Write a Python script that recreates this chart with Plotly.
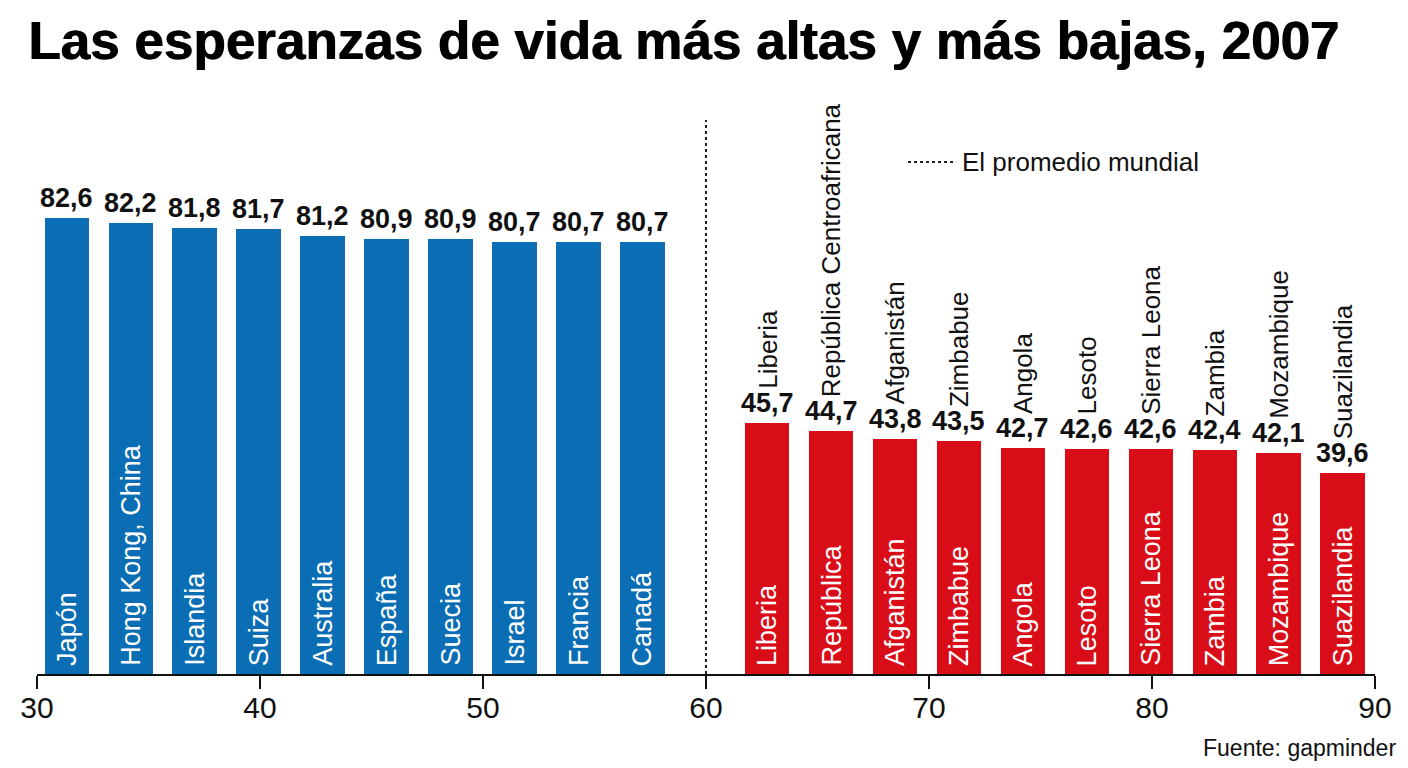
import plotly.graph_objects as go

# ---------------- data ----------------
blue_countries = ["Japón", "Hong Kong, China", "Islandia", "Suiza", "Australia",
                  "España", "Suecia", "Israel", "Francia", "Canadá"]
blue_values = [82.6, 82.2, 81.8, 81.7, 81.2, 80.9, 80.9, 80.7, 80.7, 80.7]

red_countries = ["Liberia", "República Centroafricana", "Afganistán", "Zimbabue", "Angola",
                 "Lesoto", "Sierra Leona", "Zambia", "Mozambique", "Suazilandia"]
red_inside = ["Liberia", "República", "Afganistán", "Zimbabue", "Angola",
              "Lesoto", "Sierra Leona", "Zambia", "Mozambique", "Suazilandia"]
red_values = [45.7, 44.7, 43.8, 43.5, 42.7, 42.6, 42.6, 42.4, 42.1, 39.6]

world_average_x = 60
x_ticks = [30, 40, 50, 60, 70, 80, 90]

title = "Las esperanzas de vida más altas y más bajas, 2007"
legend_text = "El promedio mundial"
source_text = "Fuente: gapminder"

# ---------------- style / layout ----------------
BLUE = "#0b6db4"
RED = "#d90d18"
INK = "#111111"
FONT = "Liberation Sans, Arial, sans-serif"

step = 2.868
blue_x = [31.34 + i * step for i in range(len(blue_values))]
red_x = [62.74 + i * step for i in range(len(red_values))]
bar_w = 2.0


def fmt(v):
    return f"{v:.1f}".replace(".", ",")


fig = go.Figure()
fig.add_trace(go.Bar(x=blue_x, y=blue_values, width=bar_w, marker_color=BLUE,
                     marker_line_width=0, yaxis="y", hoverinfo="skip", showlegend=False))
fig.add_trace(go.Bar(x=red_x, y=red_values, width=bar_w, marker_color=RED,
                     marker_line_width=0, yaxis="y2", hoverinfo="skip", showlegend=False))

ann = []
# value labels + inside labels
for xs, vals, names, yref in [(blue_x, blue_values, blue_countries, "y"),
                              (red_x, red_values, red_inside, "y2")]:
    for x, v, n in zip(xs, vals, names):
        ann.append(dict(x=x, y=v, xref="x", yref=yref, text=fmt(v), showarrow=False,
                        yanchor="bottom", xanchor="center", yshift=3,
                        font=dict(family=FONT, size=27, color=INK, weight="bold")))
        ann.append(dict(x=x, y=0, xref="x", yref="paper", text=n, showarrow=False,
                        textangle=-90, yanchor="bottom", xanchor="center", yshift=6,
                        font=dict(family=FONT, size=27, color="white")))
# names above red bars
for x, v, n in zip(red_x, red_values, red_countries):
    ann.append(dict(x=x, y=v, xref="x", yref="y2", text=n, showarrow=False,
                    textangle=-90, yanchor="bottom", xanchor="center", yshift=32,
                    font=dict(family=FONT, size=26, color=INK)))

# legend text and source
ann.append(dict(x=0.690, y=0.892, xref="paper", yref="paper", text=legend_text,
                showarrow=False, xanchor="left", yanchor="middle",
                font=dict(family=FONT, size=26, color=INK)))
ann.append(dict(x=1.0171, y=-0.129, xref="paper", yref="paper", text=source_text,
                showarrow=False, xanchor="right", yanchor="middle",
                font=dict(family=FONT, size=23, color=INK)))

shapes = [
    dict(type="line", xref="x", yref="paper", x0=world_average_x, x1=world_average_x,
         y0=0, y1=0.965, line=dict(color="#222222", width=2, dash="dot")),
    dict(type="line", xref="paper", yref="paper", x0=0.651, x1=0.687, y0=0.892, y1=0.892,
         line=dict(color="#222222", width=2, dash="dot")),
]

# the page body adds an 8 px offset; the figure is sized to fit the window
fig.update_layout(
    width=1400, height=760,
    margin=dict(l=25, r=33, t=92, b=94),
    paper_bgcolor="white", plot_bgcolor="white",
    separators=",.",
    bargap=0,
    title=dict(text=title, x=20 / 1400, xref="container", xanchor="left",
               y=1 - 32 / 760, yref="container", yanchor="middle",
               font=dict(family=FONT, size=53, color="black", weight="bold",
                         shadow="1px 0px 0px black")),
    xaxis=dict(range=[30, 90], tickmode="array", tickvals=x_ticks,
               ticktext=[str(t) for t in x_ticks],
               showline=True, linecolor=INK, linewidth=2, mirror=False,
               ticks="outside", ticklen=13, tickwidth=2, tickcolor=INK,
               ticklabelstandoff=-7,
               showgrid=False, zeroline=False,
               tickfont=dict(family=FONT, size=30, color=INK)),
    yaxis=dict(range=[46, 92.1], visible=False, showgrid=False, zeroline=False),
    yaxis2=dict(range=[15.1, 85.1], visible=False, overlaying="y", showgrid=False,
                zeroline=False),
    annotations=ann,
    shapes=shapes,
)

fig.write_html("out.html")
